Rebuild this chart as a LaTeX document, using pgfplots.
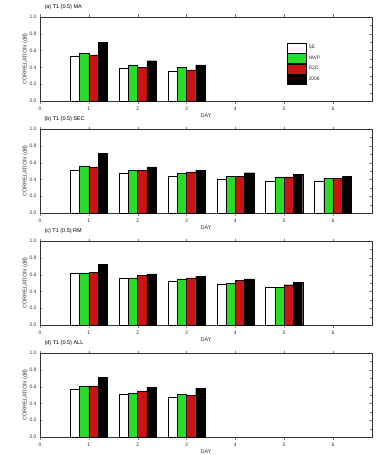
\documentclass[border=0pt]{standalone}
\usepackage{pgfplots}
\pgfplotsset{compat=1.18}
\usepgfplotslibrary{groupplots}
\usepackage{fontspec}
\setmainfont{Liberation Sans}
\definecolor{bgreen}{RGB}{40,220,40}
\definecolor{bred}{RGB}{200,20,20}
\pgfplotsset{
  myax/.style={
    width=332pt, height=84pt, scale only axis,
    xmin=0, xmax=6.8, ymin=0, ymax=1,
    xtick={0,1,2,3,4,5,6},
    ytick={0,0.2,0.4,0.6,0.8,1.0},
    minor y tick num=1,
    yticklabel style={/pgf/number format/.cd,fixed,fixed zerofill,precision=1},
    /pgf/number format/assume math mode=true,
    tick label style={font=\fontsize{5}{6}\selectfont, color=black!80},
    label style={font=\fontsize{5.5}{6}\selectfont, color=black!80},
    xlabel={DAY}, ylabel={CORRELATION (dB)},
    xlabel style={yshift=4pt},
    ylabel style={yshift=-5pt},
    tick align=inside, major tick length=2.5pt, minor tick length=1.5pt,
    axis line style={black!80, line width=0.6pt},
    ybar=0pt, bar width=0.19,
    every axis plot/.append style={draw=black, line width=0.3pt},
    title style={font=\fontsize{5.5}{6}\selectfont, anchor=south west, at={(rel axis cs:0.01,1)}, inner sep=1pt, yshift=0pt},
  }
}
\begin{document}
\begin{tikzpicture}
\begin{groupplot}[group style={group size=1 by 4, vertical sep=28pt}, myax]
\nextgroupplot[title={(a) T1 (0.5) MA},
  legend style={at={(rel axis cs:0.735,0.72)}, anchor=north west, draw=none, fill=none,
    row sep=0pt, font=\fontsize{5}{6}\selectfont,
    nodes={inner ysep=0pt, minimum height=10pt, text=black!80}},
  legend cell align=left,
  legend image code/.code={\draw[#1, line width=0.4pt] (0pt,-5pt) rectangle (19pt,5pt);}]
\addplot[fill=white] coordinates {(1,0.53) (2,0.39) (3,0.36)};
\addplot[fill=bgreen] coordinates {(1,0.57) (2,0.43) (3,0.40)};
\addplot[fill=bred] coordinates {(1,0.55) (2,0.40) (3,0.37)};
\addplot[fill=black] coordinates {(1,0.70) (2,0.48) (3,0.43)};
\legend{SE, NWP, R2D, 2006}
\nextgroupplot[title={(b) T1 (0.5) SEC}]
\addplot[fill=white] coordinates {(1,0.51) (2,0.47) (3,0.44) (4,0.40) (5,0.38) (6,0.38)};
\addplot[fill=bgreen] coordinates {(1,0.56) (2,0.51) (3,0.47) (4,0.44) (5,0.43) (6,0.41)};
\addplot[fill=bred] coordinates {(1,0.55) (2,0.51) (3,0.49) (4,0.44) (5,0.43) (6,0.41)};
\addplot[fill=black] coordinates {(1,0.71) (2,0.55) (3,0.51) (4,0.48) (5,0.46) (6,0.44)};
\nextgroupplot[title={(c) T1 (0.5) RM}]
\addplot[fill=white] coordinates {(1,0.62) (2,0.56) (3,0.52) (4,0.49) (5,0.45)};
\addplot[fill=bgreen] coordinates {(1,0.62) (2,0.56) (3,0.55) (4,0.50) (5,0.45)};
\addplot[fill=bred] coordinates {(1,0.63) (2,0.59) (3,0.56) (4,0.53) (5,0.48)};
\addplot[fill=black] coordinates {(1,0.72) (2,0.61) (3,0.58) (4,0.55) (5,0.51)};
\nextgroupplot[title={(d) T1 (0.5) ALL}]
\addplot[fill=white] coordinates {(1,0.57) (2,0.51) (3,0.47)};
\addplot[fill=bgreen] coordinates {(1,0.61) (2,0.52) (3,0.51)};
\addplot[fill=bred] coordinates {(1,0.61) (2,0.55) (3,0.50)};
\addplot[fill=black] coordinates {(1,0.71) (2,0.59) (3,0.58)};
\end{groupplot}
\pgfresetboundingbox
\path[use as bounding box] ([xshift=-40pt,yshift=17pt]group c1r1.north west) rectangle ++(375pt,-455pt);
\end{tikzpicture}
\end{document}
